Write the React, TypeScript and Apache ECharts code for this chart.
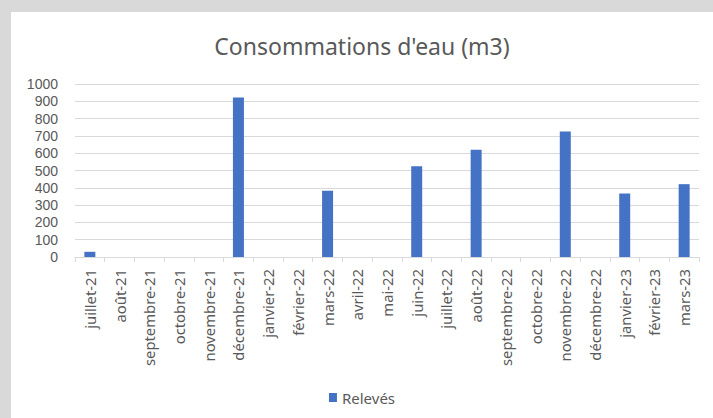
import React, { useEffect, useRef } from "react";
import * as echarts from "echarts";

const categories = [
  "juillet-21", "août-21", "septembre-21", "octobre-21", "novembre-21", "décembre-21",
  "janvier-22", "février-22", "mars-22", "avril-22", "mai-22", "juin-22", "juillet-22",
  "août-22", "septembre-22", "octobre-22", "novembre-22", "décembre-22", "janvier-23",
  "février-23", "mars-23",
];
const releves = [30, 0, 0, 0, 0, 922, 0, 0, 383, 0, 0, 525, 0, 620, 0, 0, 725, 0, 367, 0, 421];
const seriesName = "Relevés";
const title = "Consommations d'eau (m3)";

export default function App() {
  const ref = useRef<HTMLDivElement>(null);
  useEffect(() => {
    if (!ref.current) return;
    const chart = echarts.init(ref.current, null, { renderer: "svg" });
    const font = "Noto Sans";
    chart.setOption({
      animation: false,
      backgroundColor: "#ffffff",
      title: {
        text: title,
        left: "center",
        top: 17,
        textStyle: { fontFamily: font, fontSize: 23, fontWeight: "normal", color: "#595959" },
      },
      legend: {
        bottom: 8,
        left: "center",
        itemWidth: 8,
        itemHeight: 9,
        itemGap: 6,
        icon: "rect",
        textStyle: { fontFamily: font, fontSize: 15, color: "#595959" },
        data: [seriesName],
      },
      grid: { left: 64, right: 14, top: 72, bottom: 161, containLabel: false },
      xAxis: {
        type: "category",
        data: categories,
        boundaryGap: true,
        axisLine: { lineStyle: { color: "#d9d9d9", width: 1 } },
        axisTick: { show: true, length: 5, lineStyle: { color: "#d9d9d9" } },
        axisLabel: {
          rotate: 90,
          interval: 0,
          margin: 12,
          fontFamily: font,
          fontSize: 14.8,
          color: "#595959",
        },
      },
      yAxis: {
        type: "value",
        min: 0,
        max: 1000,
        interval: 100,
        axisLine: { show: false },
        axisTick: { show: false },
        splitLine: { lineStyle: { color: "#d9d9d9", width: 1 } },
        axisLabel: {
          fontFamily: "Liberation Sans",
          fontSize: 14,
          lineHeight: 14,
          color: "#595959",
          margin: 17,
          formatter: (v: number) => String(v),
        },
      },
      series: [
        {
          name: seriesName,
          type: "bar",
          data: releves,
          barWidth: 11,
          itemStyle: { color: "#4472c4" },
        },
      ],
    });
    return () => chart.dispose();
  }, []);
  return (
    <div style={{ position: "fixed", left: 0, top: 0, width: 713, height: 418, background: "#d9d9d9" }}>
      <div ref={ref} style={{ position: "absolute", left: 11, top: 12, width: 702, height: 406 }} />
    </div>
  );
}
